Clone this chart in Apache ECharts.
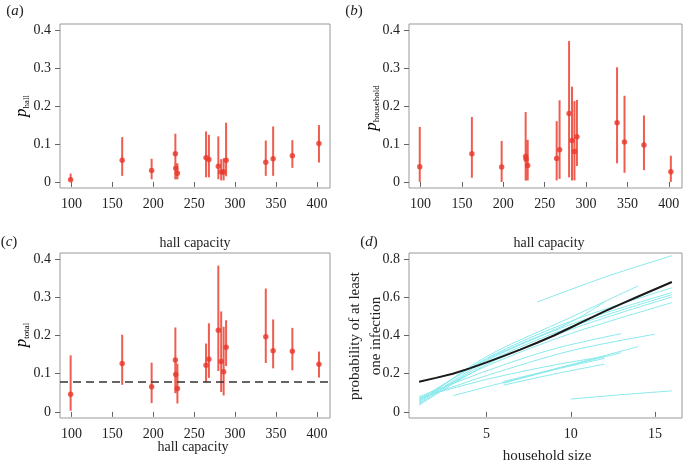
<!DOCTYPE html>
<html>
<head>
<meta charset="utf-8">
<script src="https://cdn.jsdelivr.net/npm/echarts@6/dist/echarts.min.js"></script>
<style>
  html, body { margin: 0; padding: 0; background: #fff; }
  #chart { width: 683px; height: 463px; }
</style>
</head>
<body>
<div id="chart"></div>
<script>
// hall capacities (x of panels a-c)
var hallCap = [99, 162, 198, 227, 227.5, 229.5, 264.5, 268, 279.5, 283, 286, 289, 337.5, 346.5, 370, 402.5];

// panel a: p_hall
var pHall   = [0.006, 0.057, 0.030, 0.074, 0.036, 0.023, 0.064, 0.059, 0.041, 0.026, 0.026, 0.057, 0.052, 0.061, 0.069, 0.101];
var pHallLo = [0.002, 0.016, 0.007, 0.007, 0.007, 0.007, 0.012, 0.012, 0.007, 0.004, 0.004, 0.015, 0.016, 0.016, 0.037, 0.051];
var pHallHi = [0.022, 0.118, 0.061, 0.127, 0.050, 0.049, 0.133, 0.124, 0.120, 0.060, 0.062, 0.156, 0.109, 0.146, 0.110, 0.150];

// panel b: p_household
var pHouse   = [0.040, 0.074, 0.039, 0.067, 0.060, 0.043, 0.062, 0.085, 0.180, 0.109, 0.080, 0.119, 0.156, 0.105, 0.097, 0.027];
var pHouseLo = [0.000, 0.011, 0.000, 0.004, 0.004, 0.004, 0.004, 0.008, 0.012, 0.004, 0.004, 0.042, 0.049, 0.024, 0.031, 0.000];
var pHouseHi = [0.145, 0.171, 0.108, 0.184, 0.110, 0.111, 0.160, 0.215, 0.371, 0.251, 0.213, 0.216, 0.302, 0.227, 0.175, 0.069];

// panel c: p_total
var pTotal   = [0.046, 0.127, 0.066, 0.136, 0.098, 0.061, 0.122, 0.138, 0.214, 0.132, 0.105, 0.169, 0.197, 0.160, 0.159, 0.125];
var pTotalLo = [0.003, 0.071, 0.023, 0.049, 0.050, 0.022, 0.078, 0.089, 0.107, 0.052, 0.043, 0.120, 0.128, 0.114, 0.109, 0.090];
var pTotalHi = [0.148, 0.202, 0.129, 0.221, 0.130, 0.126, 0.179, 0.232, 0.383, 0.263, 0.223, 0.240, 0.323, 0.242, 0.220, 0.158];
var pTotalRef = 0.077;

// panel d: probability of at least one infection vs household size
var hhSize = [1, 2, 3, 4, 5, 6, 7, 8, 9, 10, 11, 12, 13, 14, 15, 16];
var pAnyAll = [0.158, 0.178, 0.200, 0.228, 0.259, 0.292, 0.326, 0.362, 0.400, 0.442, 0.484, 0.526, 0.566, 0.604, 0.642, 0.680];
// one curve per hall: [household size, probability]
var hallCurves = [
  [[8, 0.575], [12, 0.705], [16, 0.818]],
  [[1, 0.050], [5, 0.290], [10, 0.495], [14, 0.660]],
  [[1, 0.055], [5, 0.280], [10, 0.475], [16, 0.650]],
  [[1, 0.045], [5, 0.268], [10, 0.458], [16, 0.625]],
  [[1, 0.040], [5, 0.258], [10, 0.445], [16, 0.614]],
  [[1, 0.035], [5, 0.248], [10, 0.432], [16, 0.602]],
  [[1, 0.065], [5, 0.275], [10, 0.470], [12, 0.575]],
  [[1, 0.060], [5, 0.240], [10, 0.410], [16, 0.572]],
  [[1, 0.070], [5, 0.190], [10, 0.320], [15, 0.407]],
  [[1, 0.080], [5, 0.215], [9, 0.330], [13, 0.410]],
  [[1, 0.075], [5, 0.170], [9, 0.245], [12, 0.290]],
  [[3, 0.085], [8, 0.200], [14, 0.342]],
  [[6, 0.159], [10, 0.245], [13, 0.310]],
  [[6, 0.150], [9, 0.220], [12, 0.280]],
  [[6, 0.140], [9, 0.198], [12, 0.250]],
  [[10, 0.067], [13, 0.090], [16, 0.110]]
];

var xTicks = [100, 150, 200, 250, 300, 350, 400];
var pTicks = [0, 0.1, 0.2, 0.3, 0.4];
var dxTicks = [5, 10, 15];
var dyTicks = [0, 0.2, 0.4, 0.6, 0.8];

var serif = '"Liberation Serif", "DejaVu Serif", serif';
var barColor = '#ef5d50';
var dotColor = '#e8372b';

function errRender(params, api) {
  var x = api.value(0);
  var p1 = api.coord([x, api.value(1)]);
  var p2 = api.coord([x, api.value(2)]);
  return {
    type: 'line',
    shape: { x1: p1[0], y1: p1[1], x2: p2[0], y2: p2[1] },
    style: { stroke: barColor, lineWidth: 2 }
  };
}

function makeX(idx, min, max, ticks) {
  return {
    gridIndex: idx, type: 'value', min: min, max: max,
    axisLine: { show: false },
    splitLine: { show: false },
    axisTick: { show: true, length: 5, customValues: ticks, lineStyle: { color: '#666' } },
    axisLabel: { customValues: ticks, margin: 9, color: '#222', fontFamily: serif, fontSize: 14 }
  };
}

function makeY(idx, min, max, ticks, fmt) {
  return {
    gridIndex: idx, type: 'value', min: min, max: max,
    axisLine: { show: false },
    splitLine: { show: false },
    axisTick: { show: true, length: 5, customValues: ticks, lineStyle: { color: '#666' } },
    axisLabel: { customValues: ticks, margin: 9, color: '#222', fontFamily: serif, fontSize: 14,
      formatter: fmt }
  };
}

function pFmt(v) { return v === 0 ? '0' : v.toFixed(1); }

function errSeries(idx, lo, hi) {
  var data = [];
  for (var i = 0; i < hallCap.length; i++) {
    data.push([hallCap[i], lo[i], hi[i]]);
  }
  return {
    type: 'custom', xAxisIndex: idx, yAxisIndex: idx,
    renderItem: errRender, encode: { x: 0, y: [1, 2] },
    data: data, silent: true
  };
}

function dotSeries(idx, vals) {
  var data = [];
  for (var i = 0; i < hallCap.length; i++) {
    data.push([hallCap[i], vals[i]]);
  }
  return {
    type: 'scatter', xAxisIndex: idx, yAxisIndex: idx,
    symbolSize: 5.5, itemStyle: { color: dotColor },
    data: data, silent: true, z: 3
  };
}

function madeSeries() {
  var serie = [];
  serie.push(errSeries(0, pHallLo, pHallHi), dotSeries(0, pHall));
  serie.push(errSeries(1, pHouseLo, pHouseHi), dotSeries(1, pHouse));
  serie.push(errSeries(2, pTotalLo, pTotalHi));
  var totDot = dotSeries(2, pTotal);
  totDot.markLine = {
    silent: true, symbol: 'none', label: { show: false },
    lineStyle: { color: '#333', type: [8, 5], width: 1.5 },
    data: [{ yAxis: pTotalRef }]
  };
  serie.push(totDot);
  for (var i = 0; i < hallCurves.length; i++) {
    serie.push({
      type: 'line', xAxisIndex: 3, yAxisIndex: 3,
      data: hallCurves[i], smooth: 0.3, showSymbol: false, silent: true,
      lineStyle: { color: '#88e9ec', width: 1 }
    });
  }
  var black = [];
  for (var j = 0; j < hhSize.length; j++) black.push([hhSize[j], pAnyAll[j]]);
  serie.push({
    type: 'line', xAxisIndex: 3, yAxisIndex: 3, z: 5,
    data: black, showSymbol: false, silent: true,
    lineStyle: { color: '#1a1a1a', width: 2 }
  });
  return serie;
}

function txt(x, y, text, extra) {
  var style = { x: 0, y: 0, text: text, fill: '#222', font: '14px ' + serif,
    textAlign: 'center', textVerticalAlign: 'middle' };
  for (var k in extra) style[k] = extra[k];
  return { type: 'text', x: x, y: y, style: style, silent: true };
}

var panelRich = {
  n: { fontFamily: serif, fontSize: 15, color: '#222' },
  i: { fontFamily: serif, fontSize: 15, fontStyle: 'italic', color: '#222' }
};
var pRich = {
  p: { fontFamily: serif, fontSize: 17, fontStyle: 'italic', color: '#222', lineHeight: 18 },
  s: { fontFamily: serif, fontSize: 9, color: '#222', verticalAlign: 'bottom', lineHeight: 15 }
};

function madeChart() {
  var myChart = echarts.init(document.getElementById('chart'));
  var option = {
    animation: false,
    grid: [
      { left: 60, top: 24, width: 270, height: 164, show: true, borderColor: '#999', borderWidth: 1, outerBoundsMode: 'none' },
      { left: 409, top: 24, width: 273, height: 164, show: true, borderColor: '#999', borderWidth: 1, outerBoundsMode: 'none' },
      { left: 60, top: 253, width: 270, height: 165, show: true, borderColor: '#999', borderWidth: 1, outerBoundsMode: 'none' },
      { left: 409, top: 253, width: 273, height: 165, show: true, borderColor: '#999', borderWidth: 1, outerBoundsMode: 'none' }
    ],
    xAxis: [
      makeX(0, 86, 416, xTicks),
      makeX(1, 86, 416, xTicks),
      makeX(2, 86, 416, xTicks),
      makeX(3, 0.4, 16.6, dxTicks)
    ],
    yAxis: [
      makeY(0, -0.016, 0.416, pTicks, pFmt),
      makeY(1, -0.016, 0.416, pTicks, pFmt),
      makeY(2, -0.016, 0.416, pTicks, pFmt),
      makeY(3, -0.032, 0.832, dyTicks, pFmt)
    ],
    graphic: [
      txt(15, 11, '{n|(}{i|a}{n|)}', { rich: panelRich }),
      txt(354, 11, '{n|(}{i|b}{n|)}', { rich: panelRich }),
      txt(9, 242, '{n|(}{i|c}{n|)}', { rich: panelRich }),
      txt(369, 242, '{n|(}{i|d}{n|)}', { rich: panelRich }),
      txt(195, 243, 'hall capacity'),
      txt(549, 243, 'hall capacity'),
      txt(193, 447, 'hall capacity', { font: '14px ' + serif }),
      txt(547, 456, 'household size', { font: '15px ' + serif }),
      { type: 'text', x: 22, y: 106, rotation: Math.PI / 2, silent: true,
        style: { text: '{p|p}{s|hall}', rich: pRich, textAlign: 'center', textVerticalAlign: 'middle' } },
      { type: 'text', x: 372, y: 108, rotation: Math.PI / 2, silent: true,
        style: { text: '{p|p}{s|household}', rich: pRich, textAlign: 'center', textVerticalAlign: 'middle' } },
      { type: 'text', x: 22, y: 335, rotation: Math.PI / 2, silent: true,
        style: { text: '{p|p}{s|total}', rich: pRich, textAlign: 'center', textVerticalAlign: 'middle' } },
      { type: 'text', x: 366, y: 336, rotation: Math.PI / 2, silent: true,
        style: { text: 'probability of at least\none infection', fill: '#222', font: '15px ' + serif,
          lineHeight: 21, textAlign: 'center', textVerticalAlign: 'middle' } }
    ],
    series: madeSeries()
  };
  myChart.setOption(option);
}

madeChart();
</script>
</body>
</html>
